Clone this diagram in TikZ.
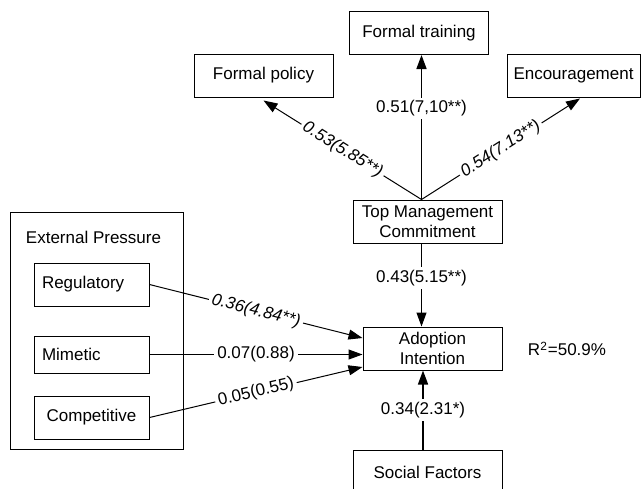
\documentclass[tikz,border=0pt]{standalone}
\usepackage{fontspec}
\setmainfont{Liberation Sans}
\usetikzlibrary{arrows.meta, positioning}

\begin{document}
\begin{tikzpicture}[x=0.5pt, y=-0.5pt, font=\fontsize{8.5}{10}\selectfont,
    box/.style={draw, line width=0.5pt, align=center, inner sep=0pt, minimum height=21.5pt},
    lbox/.style={box, text width=49.5pt, align=left, inner xsep=4pt},
    link/.style={-{Triangle[length=7pt,width=5pt]}, line width=0.5pt},
    coef/.style={fill=white, inner sep=1.5pt}]
    \clip (0,0) rectangle (641,488);

    % Commitment indicators
    \node[box, minimum width=69.5pt] (ftrain) at (419,33) {Formal training};
    \node[box, minimum width=69.5pt] (fpol) at (263.5,75.5) {Formal policy};
    \node[box, minimum width=66.5pt] (enc) at (573.5,75.5) {Encouragement};

    % Main constructs
    \node[box, minimum width=74.5pt] (tmc) at (427.5,221.5) {Top Management\\Commitment};
    \node[box, minimum width=69.5pt] (adopt) at (432.5,348.5) {Adoption\\Intention};
    \node[box, minimum width=74.5pt] (soc) at (427.5,472) {Social Factors};
    \node (rsq) at (567,349) {R\textsuperscript{2}=50.9\%};

    % External pressure group
    \node[box, minimum width=86.5pt, minimum height=118.5pt] (extp) at (96.5,330.5) {};
    \node (extlbl) at (93.5,237) {External Pressure};
    \node[lbox] (reg) at (91.5,284.5) {Regulatory};
    \node[lbox, minimum height=18.5pt] (mim) at (91.5,354.5) {Mimetic};
    \node[box, minimum width=57.5pt] (comp) at (91.5,417.5) {Competitive};

    % Paths from top management
    \coordinate (hub) at ([xshift=-3pt]tmc.north);
    \draw[link] (hub) -- ([yshift=-1.5pt]fpol.south) node[coef, midway, sloped] {\textit{0.53(5.85**)}};
    \draw[link, line width=0.8pt] (hub) -- (hub |- ftrain.south) node[coef, pos=0.63] {0.51(7,10**)};
    \draw[link] (hub) -- ([xshift=3.25pt, yshift=-0.5pt]enc.south) node[coef, midway, sloped] {\textit{0.54(7.13**)}};
    \draw[link] ([xshift=-3pt]tmc.south) -- ([xshift=-3pt]tmc.south |- adopt.north) node[coef, pos=0.42] {0.43(5.15**)};
    \draw[link, line width=0.8pt] ([xshift=-2.25pt]soc.north) -- ([xshift=-2.25pt]soc.north |- adopt.south) node[coef, midway] {0.34(2.31*)};

    % Paths from external pressure
    \draw[link] (reg.east) -- ([yshift=5.25pt]adopt.west) node[coef, midway, sloped] {\textit{0.36(4.84**)}};
    \draw[link] (mim.east) -- (mim.east -| adopt.west) node[coef, midway] {0.07(0.88)};
    \draw[link] (comp.east) -- ([yshift=-9.25pt]adopt.west) node[coef, midway, sloped] {0.05(0.55)};
\end{tikzpicture}
\end{document}
